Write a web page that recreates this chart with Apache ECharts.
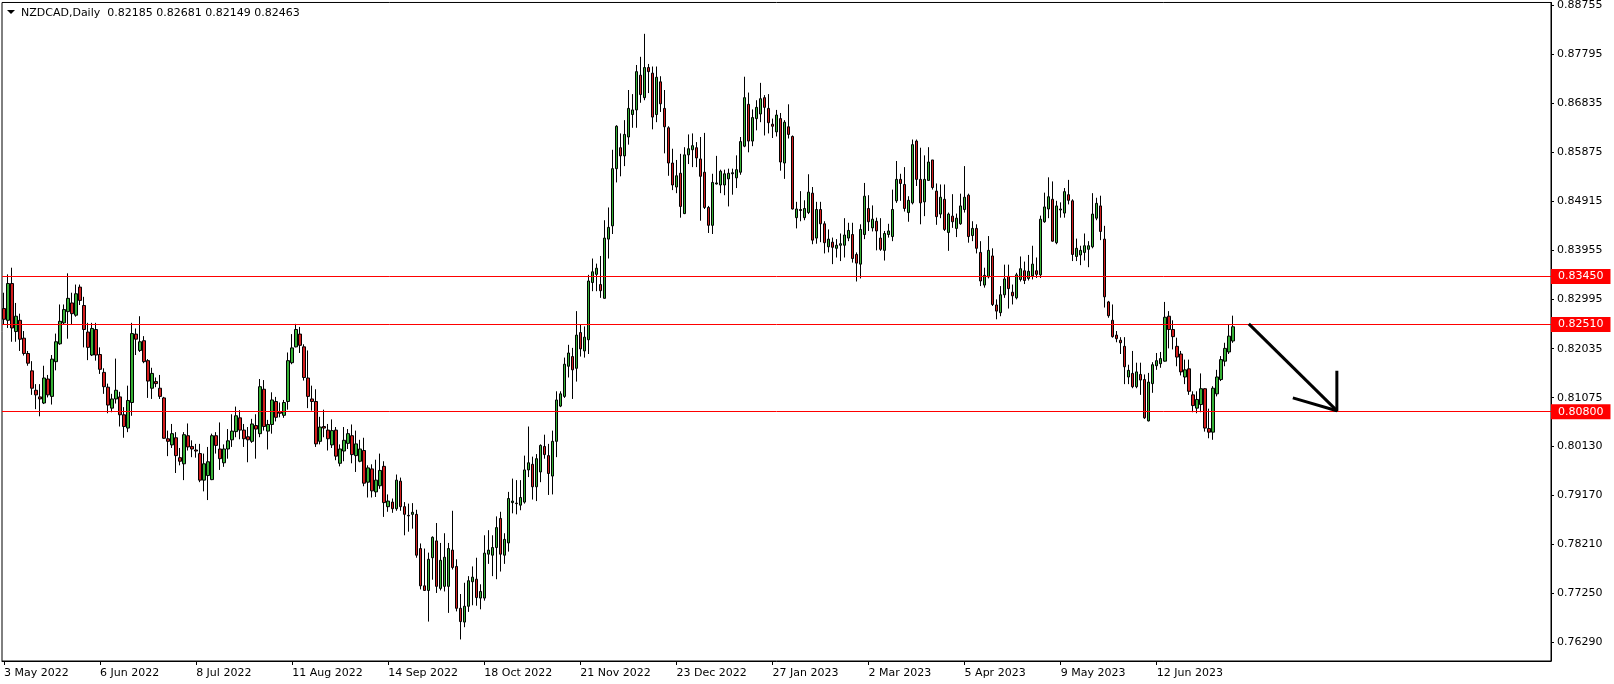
<!DOCTYPE html>
<html>
<head>
<meta charset="utf-8">
<script src="https://cdn.jsdelivr.net/npm/echarts@6/dist/echarts.min.js"></script>
<style>
html,body{margin:0;padding:0;background:#fff;}
#chart{width:1614px;height:684px;}
</style>
</head>
<body>
<div id="chart"></div>
<script>
// ---- DATA ----
const symbolName = 'NZDCAD,Daily';
const startDate = '2022-05-03';
const skippedDays = ['2023-01-02'];
const futureSlots = 79;
const labelEvery = 24;

const openP = [
.8282,.8259,.8331,.8237,.8259,.8224,.8194,.8160,.8122,.8109,
.8097,.8144,.8110,.8178,.8213,.8254,.8276,.8293,.8269,.8324,
.8288,.8236,.8191,.8241,.8192,.8157,.8128,.8087,.8105,.8109,
.8074,.8048,.8098,.8232,.8200,.8219,.8180,.8126,.8139,.8126,
.8107,.8027,.8015,.8029,.7990,.7978,.8033,.8012,.8005,.7998,
.7946,.7955,.7947,.8033,.8007,.7980,.8007,.8025,.8041,.8068,
.8044,.8031,.8022,.8053,.8037,.8124,.8042,.8055,.8100,.8080,
.8073,.8100,.8176,.8207,.8232,.8207,.8146,.8105,.8100,.8022,
.8051,.8044,.8015,.8044,.7979,.8003,.8018,.8033,.7994,.7983,
.8004,.7942,.7968,.7923,.7935,.7973,.7894,.7903,.7890,.7944,
.7894,.7877,.7879,.7879,.7812,.7739,.7730,.7794,.7827,.7734,
.7738,.7738,.7809,.7777,.7695,.7668,.7699,.7747,.7752,.7715,
.7715,.7801,.7799,.7814,.7871,.7799,.7823,.7902,.7901,.7897,
.7903,.7966,.7977,.7933,.7962,.8012,.7994,.7954,.8022,.8091,
.8110,.8169,.8188,.8165,.8235,.8199,.8221,.8333,.8349,.8329,
.8302,.8418,.8444,.8556,.8597,.8581,.8618,.8662,.8671,.8739,
.8695,.8754,.8743,.8662,.8726,.8674,.8636,.8567,.8520,.8547,
.8468,.8583,.8593,.8597,.8575,.8549,.8480,.8445,.8526,.8524,
.8524,.8536,.8546,.8538,.8549,.8600,.8682,.8610,.8654,.8663,
.8695,.8674,.8643,.8628,.8654,.8567,.8638,.8619,.8460,.8476,
.8460,.8470,.8508,.8420,.8476,.8448,.8403,.8412,.8400,.8406,
.8406,.8420,.8427,.8388,.8369,.8427,.8478,.8440,.8453,.8420,
.8396,.8427,.8423,.8493,.8535,.8525,.8470,.8489,.8610,.8535,
.8491,.8533,.8573,.8512,.8467,.8496,.8431,.8463,.8439,.8448,
.8476,.8504,.8425,.8439,.8392,.8328,.8344,.8385,.8289,.8274,
.8309,.8345,.8314,.8303,.8339,.8356,.8341,.8346,.8356,.8348,
.8452,.8477,.8496,.8411,.8475,.8469,.8505,.8493,.8384,.8387,
.8392,.8398,.8403,.8459,.8483,.8418,.8295,.8259,.8230,.8220,
.8208,.8148,.8155,.8129,.8153,.8143,.8062,.8135,.8170,.8174,
.8179,.8267,.8241,.8208,.8193,.8148,.8164,.8113,.8087,.8094,
.8125,.8047,.8040,.8115,.8143,.8179,.8197,.82185
];
const highP = [
.8313,.8349,.8362,.8293,.8272,.8238,.8199,.8179,.8134,.8134,
.8170,.8152,.8191,.8233,.8290,.8290,.8351,.8313,.8329,.8329,
.8305,.8254,.8254,.8254,.8206,.8165,.8135,.8115,.8184,.8119,
.8089,.8131,.8254,.8243,.8267,.8228,.8183,.8166,.8147,.8152,
.8109,.8043,.8056,.8040,.8009,.8040,.8057,.8024,.8017,.8017,
.7998,.8011,.8037,.8040,.8059,.8016,.8046,.8075,.8090,.8083,
.8056,.8050,.8066,.8075,.8144,.8142,.8064,.8118,.8109,.8098,
.8103,.8196,.8232,.8252,.8246,.8212,.8200,.8131,.8124,.8070,
.8084,.8056,.8065,.8050,.8016,.8050,.8046,.8055,.8043,.8025,
.8029,.7975,.7977,.7986,.7998,.7983,.7918,.7910,.7957,.7951,
.7903,.7900,.7901,.7888,.7822,.7812,.7804,.7836,.7862,.7823,
.7842,.7823,.7886,.7791,.7723,.7745,.7758,.7777,.7794,.7742,
.7838,.7848,.7838,.7875,.7884,.7842,.7923,.7949,.7946,.7946,
.7994,.8051,.7992,.7997,.8016,.8035,.8017,.8043,.8120,.8120,
.8186,.8211,.8205,.8277,.8251,.8247,.8348,.8380,.8370,.8385,
.8455,.8480,.8593,.8641,.8625,.8651,.8710,.8702,.8759,.8775,
.8820,.8761,.8756,.8756,.8737,.8710,.8639,.8595,.8573,.8585,
.8598,.8623,.8625,.8608,.8618,.8626,.8483,.8546,.8581,.8554,
.8554,.8556,.8556,.8582,.8618,.8736,.8705,.8672,.8690,.8724,
.8700,.8702,.8654,.8671,.8665,.8651,.8682,.8621,.8491,.8512,
.8494,.8545,.8520,.8491,.8491,.8453,.8437,.8421,.8418,.8429,
.8459,.8450,.8450,.8392,.8447,.8528,.8504,.8484,.8460,.8459,
.8434,.8448,.8515,.8571,.8546,.8559,.8502,.8613,.8613,.8597,
.8582,.8598,.8573,.8527,.8525,.8525,.8470,.8506,.8468,.8507,
.8561,.8507,.8453,.8447,.8414,.8362,.8424,.8400,.8300,.8326,
.8368,.8368,.8329,.8352,.8384,.8374,.8387,.8405,.8382,.8464,
.8509,.8539,.8531,.8493,.8490,.8518,.8534,.8496,.8419,.8405,
.8429,.8414,.8508,.8499,.8503,.8444,.8297,.8290,.8238,.8226,
.8226,.8172,.8199,.8176,.8176,.8153,.8156,.8177,.8195,.8197,
.8295,.8277,.8259,.8225,.8199,.8182,.8182,.8120,.8120,.8155,
.8126,.8086,.8130,.8162,.8189,.8215,.8251,.82681
];
const lowP = [
.8251,.8244,.8217,.8217,.8199,.8190,.8170,.8113,.8085,.8071,
.8095,.8108,.8094,.8161,.8211,.8250,.8223,.8250,.8266,.8289,
.8206,.8181,.8189,.8180,.8154,.8115,.8077,.8079,.8096,.8051,
.8029,.8040,.8072,.8191,.8197,.8175,.8107,.8105,.8128,.8105,
.8027,.7993,.8009,.7960,.7975,.7946,.8004,.7991,.7990,.7942,
.7924,.7907,.7946,.7998,.7966,.7972,.7988,.8011,.8030,.8026,
.8011,.7981,.8019,.7988,.8030,.8043,.8006,.8037,.8061,.8069,
.8068,.8084,.8173,.8206,.8195,.8141,.8087,.8082,.8011,.8016,
.8030,.8004,.8009,.7985,.7973,.7983,.8007,.7979,.7962,.7981,
.7934,.7912,.7912,.7913,.7929,.7874,.7884,.7882,.7886,.7886,
.7838,.7845,.7851,.7794,.7732,.7729,.7669,.7751,.7725,.7730,
.7728,.7686,.7771,.7689,.7634,.7658,.7688,.7701,.7700,.7693,
.7710,.7782,.7758,.7752,.7767,.7782,.7806,.7881,.7879,.7887,
.7900,.7952,.7908,.7905,.7942,.7988,.7917,.7918,.7991,.8089,
.8107,.8147,.8105,.8139,.8188,.8186,.8193,.8316,.8316,.8303,
.8302,.8380,.8428,.8529,.8541,.8561,.8603,.8636,.8636,.8685,
.8690,.8704,.8633,.8647,.8667,.8586,.8542,.8514,.8508,.8460,
.8467,.8565,.8559,.8559,.8454,.8477,.8430,.8428,.8525,.8508,
.8504,.8482,.8505,.8518,.8544,.8598,.8588,.8600,.8631,.8647,
.8621,.8625,.8616,.8619,.8552,.8536,.8615,.8476,.8439,.8453,
.8455,.8467,.8408,.8409,.8412,.8390,.8392,.8369,.8382,.8375,
.8382,.8414,.8372,.8335,.8341,.8418,.8434,.8433,.8396,.8395,
.8376,.8421,.8414,.8489,.8493,.8472,.8452,.8486,.8522,.8447,
.8463,.8533,.8515,.8446,.8459,.8434,.8395,.8440,.8422,.8446,
.8470,.8411,.8414,.8390,.8326,.8323,.8341,.8287,.8261,.8267,
.8303,.8282,.8290,.8300,.8335,.8330,.8337,.8339,.8342,.8342,
.8450,.8459,.8413,.8408,.8460,.8460,.8486,.8375,.8375,.8367,
.8376,.8363,.8400,.8455,.8416,.8284,.8264,.8225,.8216,.8193,
.8134,.8134,.8126,.8126,.8113,.8066,.8061,.8117,.8162,.8166,
.8178,.8204,.8202,.8169,.8151,.8134,.8113,.8079,.8077,.8079,
.8041,.8028,.8025,.8110,.8140,.8169,.8193,.82149
];
const closeP = [
.8261,.8331,.8244,.8267,.8222,.8194,.8175,.8126,.8113,.8105,
.8146,.8113,.8183,.8217,.8257,.8280,.8302,.8272,.8311,.8298,
.8241,.8206,.8243,.8191,.8163,.8129,.8093,.8105,.8122,.8074,
.8051,.8102,.8233,.8222,.8217,.8178,.8140,.8155,.8135,.8110,
.8028,.8022,.8037,.7994,.7983,.8035,.8011,.8007,.8003,.7946,
.7978,.7982,.8033,.8014,.7988,.8007,.8023,.8042,.8072,.8044,
.8027,.8025,.8056,.8046,.8129,.8051,.8055,.8103,.8069,.8077,
.8098,.8180,.8205,.8241,.8210,.8147,.8110,.8100,.8017,.8050,
.8048,.8027,.8043,.7993,.8007,.8024,.8037,.7996,.8017,.8007,
.7940,.7970,.7925,.7946,.7965,.7902,.7905,.7890,.7946,.7894,
.7879,.7876,.7883,.7799,.7739,.7730,.7791,.7834,.7738,.7789,
.7795,.7812,.7775,.7695,.7669,.7699,.7749,.7756,.7716,.7728,
.7803,.7809,.7814,.7853,.7801,.7830,.7910,.7905,.7900,.7912,
.7966,.7980,.7933,.7988,.8014,.7996,.7959,.8022,.8103,.8115,
.8173,.8195,.8162,.8230,.8203,.8226,.8336,.8354,.8361,.8317,
.8420,.8441,.8556,.8639,.8581,.8623,.8674,.8671,.8746,.8701,
.8754,.8746,.8657,.8735,.8683,.8638,.8567,.8524,.8542,.8482,
.8583,.8595,.8601,.8577,.8541,.8480,.8445,.8529,.8528,.8551,
.8546,.8547,.8548,.8554,.8609,.8695,.8610,.8656,.8676,.8693,
.8676,.8646,.8639,.8661,.8569,.8647,.8623,.8477,.8477,.8474,
.8478,.8510,.8416,.8476,.8448,.8411,.8418,.8402,.8406,.8409,
.8426,.8435,.8380,.8371,.8437,.8502,.8452,.8457,.8434,.8398,
.8429,.8434,.8476,.8535,.8527,.8478,.8494,.8603,.8535,.8489,
.8535,.8569,.8519,.8462,.8500,.8437,.8467,.8452,.8459,.8483,
.8500,.8423,.8439,.8400,.8336,.8347,.8396,.8290,.8277,.8309,
.8340,.8321,.8307,.8348,.8360,.8337,.8355,.8369,.8349,.8457,
.8481,.8501,.8414,.8483,.8477,.8511,.8494,.8388,.8400,.8396,
.8405,.8405,.8467,.8488,.8433,.8305,.8268,.8227,.8223,.8215,
.8168,.8161,.8129,.8158,.8142,.8068,.8138,.8172,.8180,.8184,
.8265,.8241,.8227,.8187,.8158,.8162,.8120,.8092,.8104,.8125,
.8048,.8040,.8126,.8148,.8182,.8204,.8228,.82463
];

const levelLines = [0.83450, 0.82510, 0.80800];
const yTickValues = [0.76290,0.77250,0.78210,0.79170,0.80130,0.81075,0.82035,0.82995,0.83955,0.84915,0.85875,0.86835,0.87795,0.88755];
const yMin = 0.75918, yMax = 0.88814;

// arrow annotation (bar index, price)
const arrowShaft = [[311, 0.8252], [333, 0.8082]];
const arrowHead = [[322, 0.8107], [333, 0.8082], [333, 0.8160]];

// ---- BUILD ----
const months = ['Jan','Feb','Mar','Apr','May','Jun','Jul','Aug','Sep','Oct','Nov','Dec'];
const nBars = openP.length;
const categories = [];
(function(){
  let d = new Date(startDate + 'T00:00:00Z');
  while (categories.length < nBars) {
    const wd = d.getUTCDay();
    const iso = d.toISOString().slice(0,10);
    if (wd !== 0 && wd !== 6 && skippedDays.indexOf(iso) < 0) {
      categories.push(d.getUTCDate() + ' ' + months[d.getUTCMonth()] + ' ' + d.getUTCFullYear());
    }
    d = new Date(d.getTime() + 86400000);
  }
  for (let k = 0; k < futureSlots; k++) categories.push('');
})();
const candles = openP.map((o, i) => [o, closeP[i], lowP[i], highP[i]]);
const last = nBars - 1;
const header = symbolName + '  ' + [openP[last], highP[last], lowP[last], closeP[last]].map(v => v.toFixed(5)).join(' ');

const FONT = 'DejaVu Sans';
const chart = echarts.init(document.getElementById('chart'), null, {renderer: 'canvas'});
const showIdx = (idx) => idx % labelEvery === 0 && idx < nBars;

chart.setOption({
  animation: false,
  backgroundColor: '#ffffff',
  grid: {left: 2, right: 63, top: 2, bottom: 23, show: true, borderColor: '#000', borderWidth: 1, backgroundColor: 'transparent'},
  xAxis: {
    type: 'category',
    data: categories,
    boundaryGap: true,
    axisLine: {show: true, lineStyle: {color: '#000', width: 1}},
    axisTick: {show: true, alignWithLabel: true, length: 4, interval: showIdx, lineStyle: {color: '#000'}},
    axisLabel: {show: true, interval: showIdx, align: 'left', margin: 7, color: '#000', fontFamily: FONT, fontSize: 11},
    splitLine: {show: false}
  },
  yAxis: {
    type: 'value',
    position: 'right',
    min: yMin, max: yMax,
    scale: true,
    axisLine: {show: true, lineStyle: {color: '#000', width: 1}},
    axisTick: {show: true, length: 3, customValues: yTickValues, lineStyle: {color: '#000'}},
    axisLabel: {show: true, customValues: yTickValues, margin: 6, color: '#000', fontFamily: FONT, fontSize: 11,
      formatter: v => v.toFixed(5)},
    splitLine: {show: false}
  },
  graphic: [
    {type: 'polygon', shape: {points: [[7,10],[15,10],[11,14]]}, style: {fill: '#000'}, z: 100},
    {type: 'text', x: 21, y: 13, style: {text: header, fill: '#000', font: '11px "DejaVu Sans"', verticalAlign: 'middle', align: 'left'}, z: 100}
  ],
  series: [
    {
      type: 'candlestick',
      data: candles,
      barWidth: 3,
      itemStyle: {color: '#35B135', color0: '#D21D1D', borderColor: '#000', borderColor0: '#000', borderWidth: 1},
      markLine: {
        silent: true,
        precision: 5,
        symbol: ['none','none'],
        lineStyle: {color: '#FF0000', width: 1, type: 'solid'},
        label: {show: true, position: 'end', distance: 0, formatter: p => Number(p.value).toFixed(5),
          backgroundColor: '#FF0000', color: '#fff', padding: [2,7,2,7], fontFamily: FONT, fontSize: 11},
        data: levelLines.map(v => ({yAxis: v}))
      },
      z: 3
    },
    {type: 'line', data: arrowShaft, symbol: 'none', lineStyle: {color: '#000', width: 3}, z: 5, silent: true},
    {type: 'line', data: arrowHead, symbol: 'none', lineStyle: {color: '#000', width: 3}, z: 5, silent: true}
  ]
});
</script>
</body>
</html>
